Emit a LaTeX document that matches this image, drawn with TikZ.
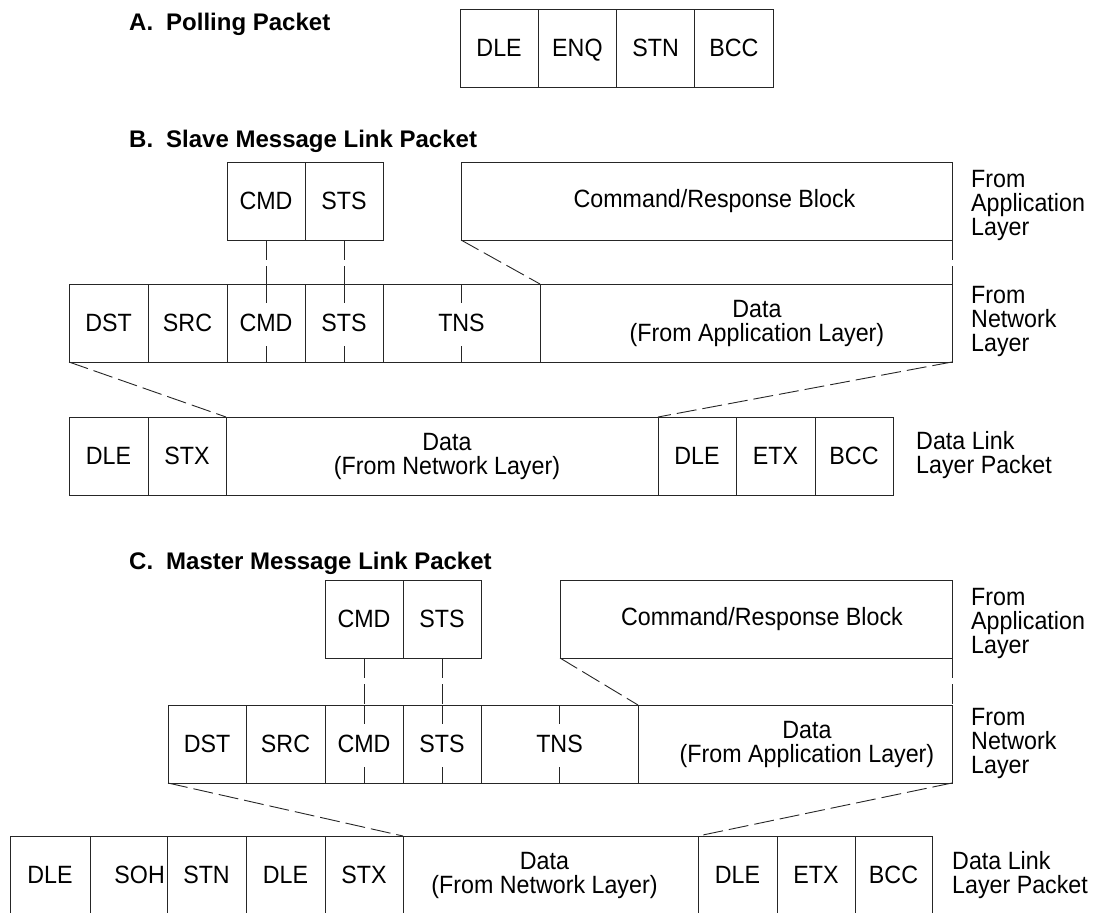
\documentclass[tikz,border=0pt]{standalone}
\usepackage{fontspec}
\setmainfont{Liberation Sans}
\newfontfamily\narrowfont{Liberation Sans}[FakeStretch=0.93]
\newcommand\txt{\narrowfont\fontsize{25}{24}\selectfont}
\newcommand\hdg{\fontsize{24}{24}\selectfont\bfseries}
\begin{document}
\begin{tikzpicture}[x=1pt,y=-1pt,
  cell/.style={draw=black!85, line width=0.9pt, inner sep=0pt, outer sep=0pt,
    font=\txt, minimum height=78, text height=17.9pt, text depth=0pt},
  lbl/.style={font=\txt, align=center, inner sep=0pt},
  side/.style={font=\txt, align=left, inner sep=0pt, anchor=west},
  heading/.style={font=\hdg, inner sep=0pt, anchor=base west},
  dsh/.style={draw=black!85, line width=0.9pt, dash pattern=on 20pt off 6pt},
  tick/.style={draw=black!85, line width=0.9pt}]
\useasboundingbox (0,0) rectangle (1107,912);

% ---------- A ----------
\node[heading] (ha) at (129,31) {A.\hspace{13pt}Polling Packet};
\node[cell, minimum width=78.25] (pdle) at (499.1,48) {DLE};
\node[cell, minimum width=78.25] (penq) at (577.4,48) {ENQ};
\node[cell, minimum width=78.25] (pstn) at (655.6,48) {STN};
\node[cell, minimum width=78.25] (pbcc) at (733.9,48) {BCC};

% ---------- B ----------
\node[heading] (hb) at (129,148) {B.\hspace{13pt}Slave Message Link Packet};
\node[cell, minimum width=78] (bcmd0) at (266,201) {CMD};
\node[cell, minimum width=78] (bsts0) at (344,201) {STS};
\node[cell, minimum width=491, label={[lbl, xshift=8pt]center:Command/Response Block}] (bcr) at (706.5,201) {};

\node[cell, minimum width=79] (bdst) at (108.5,323) {DST};
\node[cell, minimum width=79] (bsrc) at (187.5,323) {SRC};
\node[cell, minimum width=78] (bcmd) at (266,323) {CMD};
\node[cell, minimum width=78] (bsts) at (344,323) {STS};
\node[cell, minimum width=157] (btns) at (461.5,323) {TNS};
\node[cell, minimum width=412, label={[lbl, xshift=11pt]center:Data\\(From Application Layer)}] (bdata) at (746,323) {};

\node[cell, minimum width=79] (bdle) at (108.5,456) {DLE};
\node[cell, minimum width=78] (bstx) at (187,456) {STX};
\node[cell, minimum width=432, label={[lbl, xshift=5pt]center:Data\\(From Network Layer)}] (bdd) at (442,456) {};
\node[cell, minimum width=78] (bdle2) at (697,456) {DLE};
\node[cell, minimum width=79] (betx) at (775.5,456) {ETX};
\node[cell, minimum width=78] (bbcc) at (854,456) {BCC};

\node[side] (bl1) at (971,205) {From\\Application\\Layer};
\node[side] (bl2) at (971,321) {From\\Network\\Layer};
\node[side] (bl3) at (916,455) {Data Link\\Layer Packet};

\draw[dsh] (bcmd0.south) -- (bcmd.north);
\draw[dsh] (bsts0.south) -- (bsts.north);
\draw[tick] (bcmd.north) -- ++(0,19);
\draw[tick] (bcmd.south) -- ++(0,-16);
\draw[tick] (bsts.north) -- ++(0,19);
\draw[tick] (bsts.south) -- ++(0,-16);
\draw[tick] (btns.north) -- ++(0,19);
\draw[tick] (btns.south) -- ++(0,-16);
\draw[dsh] (bcr.south west) -- (bdata.north west);
\draw[dsh] (bcr.south east) -- (bdata.north east);
\draw[dsh] (bdst.south west) -- (bdd.north west);
\draw[dsh] (bdata.south east) -- (bdle2.north west);

% ---------- C ----------
\node[heading] (hc) at (129,569) {C.\hspace{13pt}Master Message Link Packet};
\node[cell, minimum width=78] (ccmd0) at (364,619) {CMD};
\node[cell, minimum width=78] (csts0) at (442,619) {STS};
\node[cell, minimum width=392, label={[lbl, xshift=6pt]center:Command/Response Block}] (ccr) at (756,619) {};

\node[cell, minimum width=78] (cdst) at (207,744) {DST};
\node[cell, minimum width=79] (csrc) at (285.5,744) {SRC};
\node[cell, minimum width=78] (ccmd) at (364,744) {CMD};
\node[cell, minimum width=78] (csts) at (442,744) {STS};
\node[cell, minimum width=157] (ctns) at (559.5,744) {TNS};
\node[cell, minimum width=314, label={[lbl, xshift=12pt]center:Data\\(From Application Layer)}] (cdata) at (795,744) {};

\node[cell, minimum width=80] (cdle) at (50,875) {DLE};
\node[cell, minimum width=77, label={[lbl, anchor=east, xshift=-2pt]east:SOH}] (csoh) at (128.5,875) {};
\node[cell, minimum width=79] (cstn) at (206.5,875) {STN};
\node[cell, minimum width=79] (cdle2) at (285.5,875) {DLE};
\node[cell, minimum width=78] (cstx) at (364,875) {STX};
\node[cell, minimum width=295, label={[lbl, xshift=-6pt]center:Data\\(From Network Layer)}] (cdd) at (550.5,875) {};
\node[cell, minimum width=79] (cdle3) at (737.5,875) {DLE};
\node[cell, minimum width=78] (cetx) at (816,875) {ETX};
\node[cell, minimum width=77] (cbcc) at (893.5,875) {BCC};

\node[side] (cl1) at (971,623) {From\\Application\\Layer};
\node[side] (cl2) at (971,743) {From\\Network\\Layer};
\node[side] (cl3) at (952,875) {Data Link\\Layer Packet};

\draw[dsh] (ccmd0.south) -- (ccmd.north);
\draw[dsh] (csts0.south) -- (csts.north);
\draw[tick] (ccmd.north) -- ++(0,19);
\draw[tick] (ccmd.south) -- ++(0,-16);
\draw[tick] (csts.north) -- ++(0,19);
\draw[tick] (csts.south) -- ++(0,-16);
\draw[tick] (ctns.north) -- ++(0,19);
\draw[tick] (ctns.south) -- ++(0,-16);
\draw[dsh] (ccr.south west) -- (cdata.north west);
\draw[dsh] (ccr.south east) -- (cdata.north east);
\draw[dsh] (cdst.south west) -- (cdd.north west);
\draw[dsh] (cdata.south east) -- (cdle3.north west);
\end{tikzpicture}
\end{document}
